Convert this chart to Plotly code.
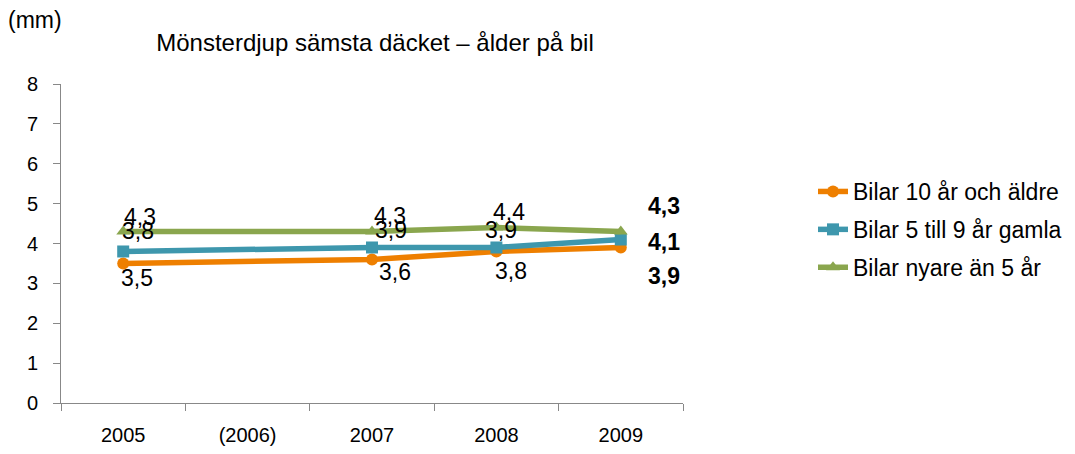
import plotly.graph_objects as go

categories = ["2005", "(2006)", "2007", "2008", "2009"]
older = [3.5, None, 3.6, 3.8, 3.9]      # Bilar 10 år och äldre
mid = [3.8, None, 3.9, 3.9, 4.1]        # Bilar 5 till 9 år gamla
newer = [4.3, None, 4.3, 4.4, 4.3]      # Bilar nyare än 5 år
names = ["Bilar 10 år och äldre", "Bilar 5 till 9 år gamla", "Bilar nyare än 5 år"]
colors = ["#EE7F00", "#3E97AD", "#8AA64E"]
symbols = ["circle", "square", "triangle-up"]

# label offsets in pixels (dx, dy) per series and category (style, not data)
label_dx = [[14, 0, 23, 15, 43], [15, 0, 19, 5, 43], [17, 0, 18, 13, 43]]
label_dy = [[-15, 0, -13, -20, -29], [20, 0, 17, 17, -2], [15, 0, 16, 16, 26]]

FONT = "Liberation Sans, Arial, Helvetica, sans-serif"


def fmt(v):
    return f"{v:.1f}".replace(".", ",")


fig = go.Figure()
series = [older, mid, newer]
for vals, name, col, sym in zip(series, names, colors, symbols):
    fig.add_trace(go.Scatter(
        x=categories, y=vals, name=name, mode="lines+markers",
        connectgaps=True, legendgroup=name,
        line=dict(color=col, width=5.5),
        marker=dict(color=col, symbol=sym, size=12),
        cliponaxis=False,
    ))

for si, vals in enumerate(series):
    for ci, v in enumerate(vals):
        if v is None:
            continue
        last = ci == len(vals) - 1
        fig.add_annotation(x=ci, y=v, xref="x", yref="y",
                           text=("<b>" + fmt(v) + "</b>") if last else fmt(v),
                           xshift=label_dx[si][ci], yshift=label_dy[si][ci],
                           showarrow=False,
                           font=dict(family=FONT, size=23, color="#000"))

fig.add_annotation(xref="paper", yref="paper", x=-0.0418, y=1.2006,
                   xanchor="center", yanchor="middle",
                   text="(mm)", showarrow=False,
                   font=dict(family=FONT, size=23, color="#000"))

W, H = 1059, 438
fig.update_layout(
    width=W, height=H,
    paper_bgcolor="white", plot_bgcolor="white",
    margin=dict(l=53, r=384, t=76, b=43, autoexpand=False),
    font=dict(family=FONT, size=20, color="#000"),
    title=dict(text="Mönsterdjup sämsta däcket – ålder på bil", x=367 / W, xanchor="center",
               y=1 - 35 / H, yanchor="middle",
               font=dict(family=FONT, size=24, color="#000")),
    legend=dict(xref="container", yref="container", x=805 / W, y=1 - 162 / H,
                xanchor="left", yanchor="top", tracegroupgap=5,
                font=dict(family=FONT, size=23, color="#000")),
    showlegend=True,
)
fig.update_xaxes(type="category", range=[-0.5, 4.5], tickson="boundaries",
                 ticks="outside", ticklen=7, tickcolor="#888", showline=True,
                 linecolor="#888", linewidth=1, showgrid=False, zeroline=False,
                 ticklabelstandoff=14, tickfont=dict(size=20))
fig.update_yaxes(range=[0, 8], dtick=1, ticks="outside", ticklen=7, tickcolor="#888",
                 showline=True, linecolor="#888", linewidth=1, showgrid=False,
                 zeroline=False, ticklabelstandoff=11, tickfont=dict(size=20))

fig.write_html("out.html")
